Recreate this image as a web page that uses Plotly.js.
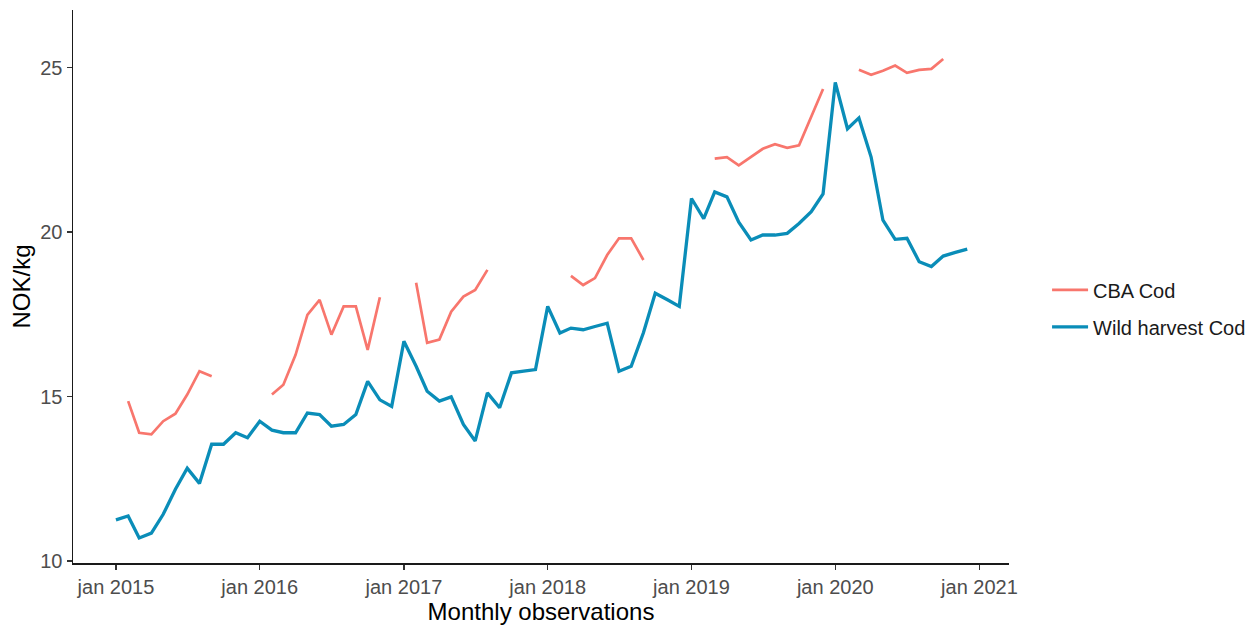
<!DOCTYPE html>
<html>
<head>
<meta charset="utf-8">
<script src="https://cdn.plot.ly/plotly-3.0.1.min.js"></script>
<style>html,body{margin:0;padding:0;background:#fff;}#chart{width:1260px;height:628px;}</style>
</head>
<body>
<div id="chart"></div>
<script>
// Monthly observations Jan 2015 .. Dec 2020
const startYear = 2015;
const nMonths = 72;
const months = [];
for (let i = 0; i < nMonths; i++) {
  const y = startYear + Math.floor(i / 12);
  const m = (i % 12) + 1;
  months.push(y + '-' + (m < 10 ? '0' + m : m) + '-01');
}

const seriesNames = ['CBA Cod', 'Wild harvest Cod'];

const cbaCod = [
  null, 14.86, 13.90, 13.85, 14.25, 14.48, 15.06, 15.77, 15.62, null, null, null,
  null, 15.06, 15.36, 16.27, 17.48, 17.94, 16.88, 17.74, 17.74, 16.42, 18.02, null,
  null, 18.46, 16.63, 16.73, 17.58, 18.04, 18.24, 18.85, null, null, null, null,
  null, null, 18.67, 18.39, 18.60, 19.30, 19.81, 19.81, 19.15, null, null, null,
  null, null, 22.23, 22.28, 22.03, 22.28, 22.53, 22.67, 22.56, 22.64, 23.50, 24.35,
  null, null, 24.93, 24.78, 24.90, 25.06, 24.84, 24.93, 24.96, 25.26, null, null
];

const wildCod = [
  11.25, 11.37, 10.70, 10.85, 11.42, 12.18, 12.82, 12.36, 13.55, 13.55, 13.90, 13.75,
  14.25, 13.98, 13.90, 13.90, 14.50, 14.45, 14.10, 14.15, 14.45, 15.46, 14.90, 14.70,
  16.68, 15.92, 15.16, 14.86, 14.99, 14.15, 13.65, 15.11, 14.66, 15.72, 15.77, 15.82,
  17.74, 16.93, 17.08, 17.03, 17.13, 17.23, 15.77, 15.92, 16.94, 18.14, 17.94, 17.74,
  21.02, 20.41, 21.22, 21.07, 20.30, 19.76, 19.91, 19.91, 19.96, 20.26, 20.62, 21.16,
  24.55, 23.14, 23.47, 22.28, 20.36, 19.78, 19.81, 19.10, 18.95, 19.27, 19.38, 19.48
];

const xTickVals = ['2015-01-01','2016-01-01','2017-01-01','2018-01-01','2019-01-01','2020-01-01','2021-01-01'];
const xTickText = ['jan 2015','jan 2016','jan 2017','jan 2018','jan 2019','jan 2020','jan 2021'];
const yTickVals = [10, 15, 20, 25];

const FONT = 'Liberation Sans, Arial, sans-serif';

const traces = [
  {
    x: months, y: cbaCod, name: seriesNames[0], type: 'scatter', mode: 'lines',
    connectgaps: false, line: {color: '#F8766D', width: 2.7}, legendgroup: 'a'
  },
  {
    x: months, y: wildCod, name: seriesNames[1], type: 'scatter', mode: 'lines',
    line: {color: '#0A8DB8', width: 3.3}, legendgroup: 'b'
  }
];

const layout = {
  width: 1260, height: 628,
  margin: {l: 73, r: 251, t: 10, b: 65},
  paper_bgcolor: '#fff', plot_bgcolor: '#fff',
  font: {family: FONT, color: '#000'},
  showlegend: true,
  legend: {
    xref: 'container', yref: 'container',
    x: 0.8310, y: 0.5088, xanchor: 'left', yanchor: 'middle',
    font: {size: 20, color: '#1a1a1a', family: FONT},
    tracegroupgap: 8, bgcolor: 'rgba(0,0,0,0)', itemwidth: 36
  },
  xaxis: {
    type: 'date',
    range: ['2014-09-14', '2021-03-17'],
    tickmode: 'array', tickvals: xTickVals, ticktext: xTickText,
    showgrid: false, zeroline: false,
    showline: true, linecolor: '#1a1a1a', linewidth: 1.5,
    ticks: 'outside', ticklen: 5, tickwidth: 1.5, tickcolor: '#333',
    tickfont: {size: 20, color: '#4d4d4d', family: FONT},
    title: {text: 'Monthly observations', font: {size: 24, color: '#000', family: FONT}, standoff: 6}
  },
  yaxis: {
    range: [9.94, 26.75],
    tickmode: 'array', tickvals: yTickVals,
    showgrid: false, zeroline: false,
    showline: true, linecolor: '#1a1a1a', linewidth: 1.5,
    ticks: 'outside', ticklen: 5, tickwidth: 1.5, tickcolor: '#333',
    tickfont: {size: 20, color: '#4d4d4d', family: FONT},
    title: {text: 'NOK/kg', font: {size: 24, color: '#000', family: FONT}, standoff: 3}
  }
};

Plotly.newPlot('chart', traces, layout, {displayModeBar: false, staticPlot: true});
</script>
</body>
</html>
